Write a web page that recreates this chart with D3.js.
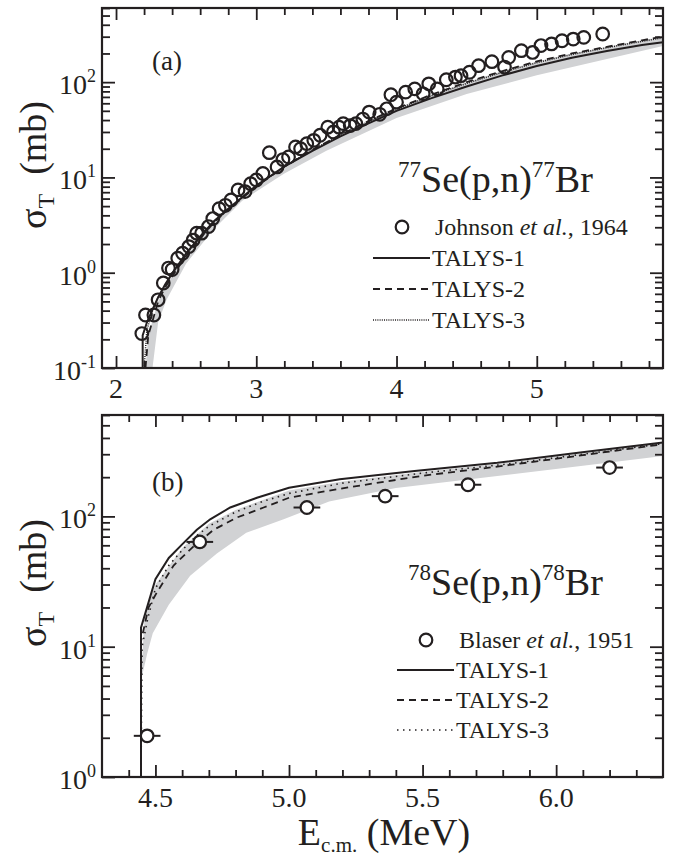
<!DOCTYPE html>
<html>
<head>
<meta charset="utf-8">
<script src="https://cdn.jsdelivr.net/npm/d3@7"></script>
<style>
  body { margin: 0; background: #fff; }
  svg text { font-family: "Liberation Serif", "Times New Roman", serif; fill: #231f20; }
  .tick line { stroke: #231f20; stroke-width: 1.8; }
</style>
</head>
<body>
<svg id="chart" width="673" height="856"></svg>
<script>
// ---- panel (a): 77Se(p,n)77Br ----
var johnsonE = [2.184, 2.21, 2.27, 2.30, 2.337, 2.374, 2.40, 2.44, 2.475, 2.52, 2.55, 2.575, 2.61, 2.66, 2.69,
  2.735, 2.78, 2.82, 2.87, 2.92, 2.96, 3.0, 3.047, 3.093, 3.148, 3.19, 3.23, 3.28, 3.316, 3.36, 3.41, 3.455,
  3.51, 3.55, 3.59, 3.62, 3.67, 3.71, 3.76, 3.805, 3.88, 3.93, 3.96, 4.0, 4.065, 4.13, 4.19, 4.23, 4.29,
  4.355, 4.42, 4.46, 4.52, 4.585, 4.68, 4.77, 4.80, 4.89, 4.97, 5.03, 5.105, 5.18, 5.26, 5.335, 5.47];
var johnsonSigma = [0.23, 0.36, 0.36, 0.52, 0.78, 1.12, 1.08, 1.42, 1.6, 1.88, 2.2, 2.6, 2.6, 3.05, 3.7,
  4.7, 5.1, 5.8, 7.4, 7.1, 8.6, 9.4, 11.0, 18.2, 12.9, 15.4, 16.4, 20.9, 20, 22.6, 24.5, 27.7,
  33.7, 30, 33.7, 36.7, 35, 36.7, 41, 48.5, 46, 52.5, 73.8, 61.7, 78.6, 85, 75.5, 96, 85,
  106, 113, 117, 127, 149, 164, 144, 182, 214, 205, 242, 252, 272, 283, 295, 320];

var talys1aE = [2.19, 2.19, 2.22, 2.25, 2.3, 2.35, 2.4, 2.5, 2.6, 2.7, 2.8, 3.0, 3.2, 3.4, 3.6, 3.8, 4.0, 4.25, 4.5, 4.75, 5.0, 5.25, 5.5, 5.75, 5.9];
var talys1aSigma = [0.1, 0.22, 0.3, 0.38, 0.55, 0.75, 0.98, 1.6, 2.4, 3.5, 4.7, 8.2, 13, 19, 27, 37, 50, 68, 90, 117, 148, 180, 212, 245, 262];
var talys2aE = [2.21, 2.23, 2.27, 2.3, 2.35, 2.4, 2.5, 2.6, 2.7, 2.8, 3.0, 3.2, 3.4, 3.6, 3.8, 4.0, 4.25, 4.5, 4.75, 5.0, 5.25, 5.5, 5.75, 5.9];
var talys2aSigma = [0.1, 0.22, 0.35, 0.5, 0.7, 0.92, 1.5, 2.3, 3.4, 4.6, 8.0, 13, 19.5, 28, 39, 53, 74, 100, 130, 165, 200, 235, 275, 300];
var talys3aE = [2.2, 2.22, 2.26, 2.3, 2.35, 2.4, 2.5, 2.6, 2.7, 2.8, 3.0, 3.2, 3.4, 3.6, 3.8, 4.0, 4.25, 4.5, 4.75, 5.0, 5.25, 5.5, 5.75, 5.9];
var talys3aSigma = [0.1, 0.25, 0.4, 0.55, 0.75, 0.97, 1.55, 2.35, 3.45, 4.65, 8.1, 13, 19.5, 28, 38.5, 52, 72, 97, 126, 160, 195, 230, 268, 292];
var bandUpAE = talys2aE, bandUpASigma = talys2aSigma;
var bandLoAE = [2.26, 2.30, 2.36, 2.5, 2.7, 2.9, 3.2, 3.5, 4.0, 4.5, 5.0, 5.5, 5.9];
var bandLoASigma = [0.1, 0.3, 0.52, 1.25, 2.9, 5.7, 11, 19, 42, 75, 118, 175, 240];

// ---- panel (b): 78Se(p,n)78Br ----
var blaserE = [4.469, 4.666, 5.067, 5.36, 5.67, 6.20];
var blaserSigma = [2.07, 63.7, 117, 143, 175, 237];
var blaserErr = [0.05, 0.05, 0.05, 0.05, 0.05, 0.05];

var talys1bE = [4.446, 4.446, 4.5, 4.55, 4.6, 4.655, 4.705, 4.78, 4.88, 5.0, 5.19, 5.47, 5.78, 6.09, 6.4];
var talys1bSigma = [1, 14, 33, 48, 61, 79, 95, 117, 139, 166, 193, 223, 258, 309, 369];
var talys2bE = [4.446, 4.446, 4.474, 4.505, 4.568, 4.643, 4.718, 4.805, 4.905, 5.0, 5.19, 5.5, 5.78, 6.1, 6.4];
var talys2bSigma = [1, 11, 20, 26, 42, 59, 79, 98, 117, 139, 163, 205, 241, 295, 358];
var talys3bE = [4.446, 4.45, 4.47, 4.5, 4.55, 4.6, 4.65, 4.7, 4.8, 4.9, 5.0, 5.2, 5.5, 5.8, 6.1, 6.4];
var talys3bSigma = [1, 10, 16, 28, 42, 55, 70, 84, 108, 130, 150, 180, 215, 250, 300, 362];
var bandUpBE = [4.446, 4.46, 4.5, 4.6, 4.7, 4.8, 5.0, 5.2, 5.5, 5.8, 6.1, 6.4];
var bandUpBSigma = [5.5, 18, 30, 57, 88, 112, 158, 185, 220, 255, 305, 368];
var bandLoBE = [4.446, 4.47, 4.49, 4.55, 4.63, 4.73, 4.84, 4.98, 5.15, 5.4, 5.78, 6.1, 6.4];
var bandLoBSigma = [5.5, 9, 12.7, 21, 35, 52, 75, 95, 130, 165, 204, 245, 291];

// tick labels
var xMajorA = [2, 3, 4, 5];
var xMajorB = [4.5, 5.0, 5.5, 6.0];

var ink = "#231f20";
var svg = d3.select("#chart");
var left = 102, right = 663;

function zip(a, b) { return a.map(function(v, i) { return [v, b[i]]; }); }

function drawPanel(p) {
  var x = d3.scaleLinear().domain(p.xDomain).range([left, right]);
  var y = d3.scaleLog().domain(p.yDomain).range([p.bottom, p.top]);
  var g = svg.append("g");

  svg.append("clipPath").attr("id", "clip-" + p.name)
    .append("rect").attr("x", left).attr("y", p.top)
    .attr("width", right - left).attr("height", p.bottom - p.top);
  var plot = g.append("g").attr("clip-path", "url(#clip-" + p.name + ")");

  var line = d3.line().x(function(d) { return x(d[0]); }).y(function(d) { return y(d[1]); });

  // uncertainty band
  var band = zip(p.bandUp[0], p.bandUp[1]).concat(zip(p.bandLo[0], p.bandLo[1]).reverse());
  plot.append("path").attr("d", line(band) + "Z").attr("fill", "#d1d2d4");

  // TALYS curves
  p.curves.forEach(function(c) {
    plot.append("path").attr("d", line(zip(c.E, c.S)))
      .attr("fill", "none").attr("stroke", ink)
      .attr("stroke-width", c.width).attr("stroke-dasharray", c.dash);
  });

  // data
  var pts = zip(p.data[0], p.data[1]);
  if (p.err) {
    plot.selectAll(".err").data(pts).enter().append("line")
      .attr("x1", function(d, i) { return x(d[0] - p.err[i]); })
      .attr("x2", function(d, i) { return x(d[0] + p.err[i]); })
      .attr("y1", function(d) { return y(d[1]); })
      .attr("y2", function(d) { return y(d[1]); })
      .attr("stroke", ink).attr("stroke-width", 2);
  }
  plot.selectAll(".pt").data(pts).enter().append("circle")
    .attr("cx", function(d) { return x(d[0]); })
    .attr("cy", function(d) { return y(d[1]); })
    .attr("r", 6.3)
    .attr("fill", p.err ? "#fff" : "none")
    .attr("stroke", ink).attr("stroke-width", 2.2);

  // ticks on all four sides, pointing inward
  var yTicks = y.ticks();
  var yMajor = yTicks.filter(function(v) { return Math.abs(Math.log10(v) - Math.round(Math.log10(v))) < 1e-6; });
  var yMinor = yTicks.filter(function(v) { return yMajor.indexOf(v) < 0; });
  var xMinor = d3.range(p.xMinor[0], p.xMinor[1] + 1e-9, p.xMinor[2])
    .map(function(v) { return Math.round(v * 100) / 100; })
    .filter(function(v) { return p.xMajor.indexOf(v) < 0; });

  function tickAxis(axisFn, scale, values, size, tr) {
    var a = g.append("g").attr("transform", tr)
      .call(axisFn(scale).tickValues(values).tickSize(-size).tickSizeOuter(0).tickFormat(""));
    a.select(".domain").remove();
  }
  tickAxis(d3.axisBottom, x, p.xMajor, 12, "translate(0," + p.bottom + ")");
  tickAxis(d3.axisBottom, x, xMinor, 7, "translate(0," + p.bottom + ")");
  tickAxis(d3.axisTop, x, p.xMajor, 12, "translate(0," + p.top + ")");
  tickAxis(d3.axisTop, x, xMinor, 7, "translate(0," + p.top + ")");
  tickAxis(d3.axisLeft, y, yMajor, 13, "translate(" + left + ",0)");
  tickAxis(d3.axisLeft, y, yMinor, 8, "translate(" + left + ",0)");
  tickAxis(d3.axisRight, y, yMajor, 13, "translate(" + right + ",0)");
  tickAxis(d3.axisRight, y, yMinor, 8, "translate(" + right + ",0)");

  // frame
  g.append("rect").attr("x", left).attr("y", p.top)
    .attr("width", right - left).attr("height", p.bottom - p.top)
    .attr("fill", "none").attr("stroke", ink).attr("stroke-width", 2.2);

  // x tick labels
  g.selectAll(".xl").data(p.xMajor).enter().append("text")
    .attr("x", function(d) { return x(d); })
    .attr("y", p.bottom + 30)
    .attr("text-anchor", "middle").attr("font-size", 28)
    .text(p.xFormat);

  // y tick labels 10^n
  yMajor.forEach(function(v) {
    var t = g.append("text").attr("x", 96).attr("y", y(v) + 12)
      .attr("text-anchor", "end").attr("font-size", 28);
    t.append("tspan").text("10");
    t.append("tspan").attr("font-size", 18).attr("dy", -12)
      .text(String(Math.round(Math.log10(v))));
  });

  // y axis title
  var yt = g.append("text")
    .attr("transform", "translate(46," + p.yTitle + ") rotate(-90)")
    .attr("text-anchor", "middle").attr("font-size", 38);
  yt.append("tspan").text("\u03c3");
  yt.append("tspan").attr("font-size", 24).attr("dy", 8).text("T");
  yt.append("tspan").attr("dy", -8).text("\u2002(mb)");

  // panel letter
  g.append("text").attr("x", 152).attr("y", p.top + p.letterY)
    .attr("font-size", 27).text(p.letter);

  // reaction
  var r = g.append("text").attr("x", p.reaction[0]).attr("y", p.reaction[1]).attr("font-size", 38);
  r.append("tspan").attr("font-size", 23).attr("dy", -15).text(p.mass);
  r.append("tspan").attr("dy", 15).text("Se(p,n)");
  r.append("tspan").attr("font-size", 23).attr("dy", -15).text(p.mass);
  r.append("tspan").attr("dy", 15).text("Br");

  // legend
  var lx = p.legend[0], ly = p.legend[1], step = p.legend[2];
  g.append("circle").attr("cx", lx + 29).attr("cy", ly).attr("r", 6.3)
    .attr("fill", "#fff").attr("stroke", ink).attr("stroke-width", 2.2);
  var lt = g.append("text").attr("x", lx + 62).attr("y", ly + 8).attr("font-size", 24);
  lt.append("tspan").text(p.source[0] + " ");
  lt.append("tspan").attr("font-style", "italic").text("et al.");
  lt.append("tspan").text(", " + p.source[1]);
  p.curves.forEach(function(c, i) {
    var yy = ly + step * (i + 1);
    g.append("line").attr("x1", lx).attr("x2", lx + 57).attr("y1", yy).attr("y2", yy)
      .attr("stroke", ink).attr("stroke-width", c.width).attr("stroke-dasharray", c.legendDash || c.dash);
    g.append("text").attr("x", lx + 59).attr("y", yy + 8).attr("font-size", 24).text(c.name);
  });
}

drawPanel({
  name: "a", letter: "(a)", mass: "77", top: 8, bottom: 368,
  xDomain: [1.9, 5.9], yDomain: [0.1, 600],
  xMajor: xMajorA, xMinor: [2.0, 5.8, 0.2], xFormat: function(d) { return d; },
  data: [johnsonE, johnsonSigma],
  bandUp: [bandUpAE, bandUpASigma], bandLo: [bandLoAE, bandLoASigma],
  curves: [
    { name: "TALYS-1", E: talys1aE, S: talys1aSigma, width: 2, dash: null },
    { name: "TALYS-2", E: talys2aE, S: talys2aSigma, width: 1.8, dash: "7,5" },
    { name: "TALYS-3", E: talys3aE, S: talys3aSigma, width: 1.5, dash: "1,1.2" }
  ],
  yTitle: 165, letterY: 62, reaction: [398, 192], legend: [373, 227, 31],
  source: ["Johnson", "1964"]
});

drawPanel({
  name: "b", letter: "(b)", mass: "78", top: 415, bottom: 777,
  xDomain: [4.3, 6.4], yDomain: [1, 600],
  xMajor: xMajorB, xMinor: [4.4, 6.3, 0.1], xFormat: d3.format(".1f"),
  data: [blaserE, blaserSigma], err: blaserErr,
  bandUp: [bandUpBE, bandUpBSigma], bandLo: [bandLoBE, bandLoBSigma],
  curves: [
    { name: "TALYS-1", E: talys1bE, S: talys1bSigma, width: 2, dash: null },
    { name: "TALYS-2", E: talys2bE, S: talys2bSigma, width: 1.8, dash: "7,5" },
    { name: "TALYS-3", E: talys3bE, S: talys3bSigma, width: 1.6, dash: "1.5,4.5" }
  ],
  yTitle: 583, letterY: 76, reaction: [408, 595], legend: [397, 640, 30],
  source: ["Blaser", "1951"]
});

// x axis title
var xt = svg.append("text").attr("x", 384).attr("y", 845)
  .attr("text-anchor", "middle").attr("font-size", 38);
xt.append("tspan").text("E");
xt.append("tspan").attr("font-size", 21).attr("dy", 7).text("c.m.");
xt.append("tspan").attr("dy", -7).text(" (MeV)");
</script>
</body>
</html>
